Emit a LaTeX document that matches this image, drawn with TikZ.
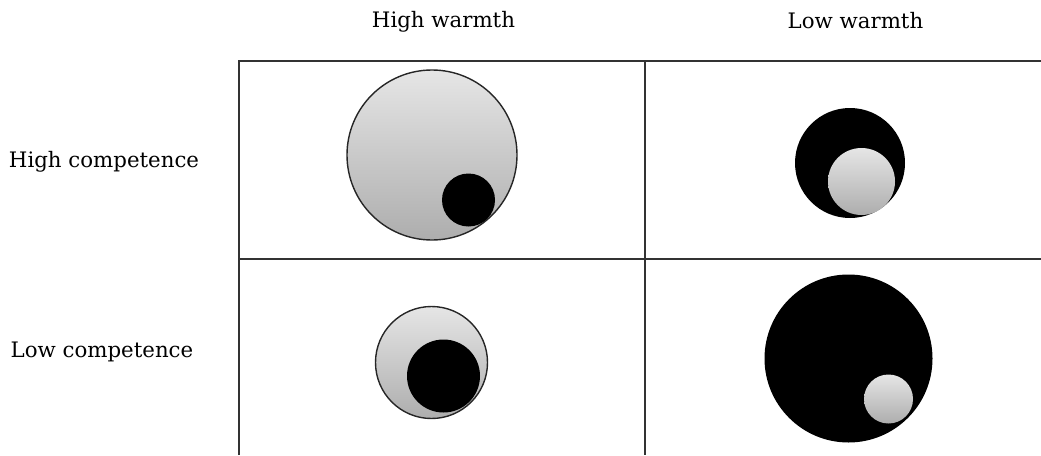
\documentclass[tikz,border=0pt]{standalone}
\usepackage{fontspec}
\setmainfont{DejaVu Serif}
\begin{document}
\begin{tikzpicture}[x=1pt,y=-1pt,
  lbl/.style={font=\fontsize{21.3}{24}\selectfont, inner sep=0pt, anchor=center},
  gray/.style={circle, inner sep=0pt, draw=black!85, line width=1.4pt, top color=black!10, bottom color=black!32},
  grayb/.style={circle, inner sep=0pt, top color=black!10, bottom color=black!32},
  blk/.style={circle, inner sep=0pt, fill=black},
  grid/.style={draw=black!80, line width=1.6pt}]
\useasboundingbox (0,0) rectangle (1041,455);
\draw[grid] (239,455) -- (239,61) -- (1041,61);
\draw[grid] (239,259) -- (1041,259);
\draw[grid] (645,61) -- (645,455);
\node[lbl] (hw) at (443.5,22) {High warmth};
\node[lbl] (lw) at (855.5,21) {Low warmth};
\node[lbl] (hc) at (104,162) {High competence};
\node[lbl] (lc) at (102,352) {Low competence};
% top left
\node[gray, minimum size=170pt] (tlo) at (432,155) {};
\node[blk, minimum size=53pt] (tli) at (468.5,200) {};
% top right
\node[blk, minimum size=110pt] (tro) at (850,163) {};
\node[grayb, minimum size=67pt] (tri) at (861.5,181.5) {};
% bottom left
\node[gray, minimum size=112pt] (blo) at (431.5,362.5) {};
\node[blk, minimum size=73pt] (bli) at (443.5,376) {};
% bottom right
\node[blk, minimum size=168pt] (bro) at (848.5,358.5) {};
\node[grayb, minimum size=49pt] (bri) at (888.5,399) {};
\end{tikzpicture}
\end{document}
